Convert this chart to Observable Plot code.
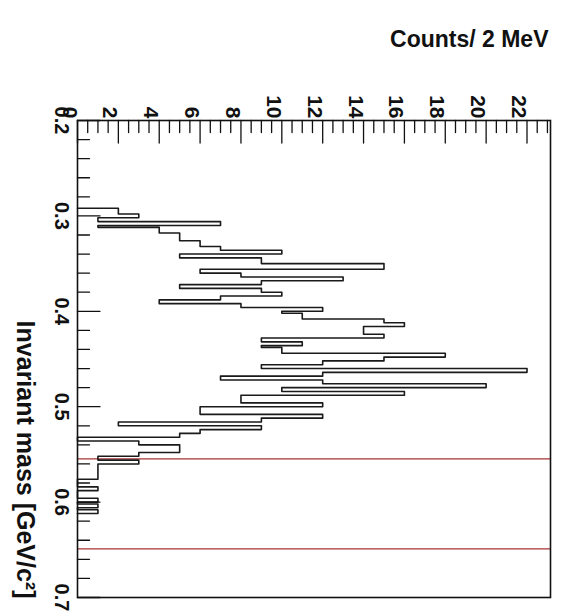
<!DOCTYPE html>
<html><head><meta charset="utf-8">
<script src="https://cdn.jsdelivr.net/npm/d3@7"></script>
<script src="https://cdn.jsdelivr.net/npm/@observablehq/plot@0.6"></script>
<style>body{margin:0;background:#fff;font-family:"Liberation Sans",Arial,sans-serif}</style>
</head><body><div id="chart"></div>
<script>
const title = "Counts/ 2 MeV";
const yTitle = "Invariant mass [GeV/c²]";
const binStart = 0.292;
const binWidth = 0.002;
const counts = [2,2,2, 3,3, 1,1, 7,7, 1, 4,4,4, 5,5,5,5, 6,6,6, 7,7, 10,10, 5,5, 9,9,9, 15,15,15, 6,6, 8,8, 13,13, 9,9, 5,5, 9,9, 10,10, 7,7, 4,4, 8,8, 12,12, 10, 11,11,11, 15,15, 16,16, 14,14,14,14, 15,15, 9,9, 11,11, 9, 10,10,10, 18,18, 15,15, 12,12, 9,9, 22,22, 12,12, 7,7, 12,12, 20,20, 10,10, 16,16, 8,8,8,8, 12,12, 6,6,6,6, 12,12, 9,9, 2,2, 9,9, 6,6, 5,5, 0,0, 3,3, 5,5,5,5, 3,3, 1,1, 3,3, 1,1,1,1,1,1,1,1, 0,0,0,0, 1,1, 0,0,0,0, 1,1,0,1,1,0,1,1];
const massMajor = [0.2, 0.3, 0.4, 0.5, 0.6, 0.7];
const massMinor = [0.2,0.22,0.24,0.26,0.28,0.3,0.32,0.34,0.36,0.38,0.4,0.42,0.44,0.46,0.48,0.5,0.52,0.54,0.56,0.58,0.6,0.62,0.64,0.66,0.68,0.7];
const countMajor = [0, 2, 4, 6, 8, 10, 12, 14, 16, 18, 20, 22];
const countMinor = d3.range(0, 23.01, 0.5);
const redLines = [0.5546, 0.649];

const pts = [{m: binStart, c: 0}];
counts.forEach((c, i) => {
  pts.push({m: binStart + i * binWidth, c});
  pts.push({m: binStart + (i + 1) * binWidth, c});
});
pts.push({m: binStart + counts.length * binWidth, c: 0});

const tickShape = {draw(ctx, l) { ctx.moveTo(0, 0); ctx.lineTo(0, -l); }};
const font = {fontFamily: "Liberation Sans", fontWeight: "bold"};

const chart = Plot.plot({
  width: 563, height: 612,
  marginTop: 120, marginLeft: 77, marginRight: 13, marginBottom: 15,
  x: {domain: [0, 23.15], axis: null},
  y: {domain: [0.2, 0.7], reverse: true, axis: null},
  marks: [
    Plot.ruleY(redLines, {y: d => d, stroke: "#a83232", strokeWidth: 1.3}),
    Plot.line(pts, {x: "c", y: "m", stroke: "#1a1a1a", strokeWidth: 1.6, curve: "linear"}),
    Plot.frame({stroke: "#111", strokeWidth: 1.6}),
    Plot.vector(countMinor, {x: d => d, frameAnchor: "top", rotate: 180, anchor: "start", length: d => (countMajor.includes(d) ? 15 : 8), shape: tickShape, stroke: "#111", strokeWidth: 1.3}),
    Plot.vector(massMinor, {y: d => d, frameAnchor: "left", rotate: 90, anchor: "start", length: d => (massMajor.includes(d) ? 15 : 8), shape: tickShape, stroke: "#111", strokeWidth: 1.3}),
    Plot.text(countMajor, {x: d => d, frameAnchor: "top", dy: -2, rotate: 90, textAnchor: "end", text: d => String(d), fontSize: 21, fill: "#111", ...font}),
    Plot.text(massMajor, {y: d => d, frameAnchor: "left", dx: -16, rotate: 90, textAnchor: "middle", text: d => d.toFixed(1), fontSize: 20, fill: "#111", ...font}),
    Plot.text([yTitle], {frameAnchor: "bottom-left", dx: -61, dy: 1, rotate: 90, textAnchor: "end", text: d => d, fontSize: 25, fill: "#111", ...font}),
    Plot.text([title], {frameAnchor: "top-right", dx: -2, dy: -90, textAnchor: "end", text: d => d, fontSize: 23, fill: "#111", ...font})
  ]
});
document.getElementById("chart").append(chart);
</script></body></html>
